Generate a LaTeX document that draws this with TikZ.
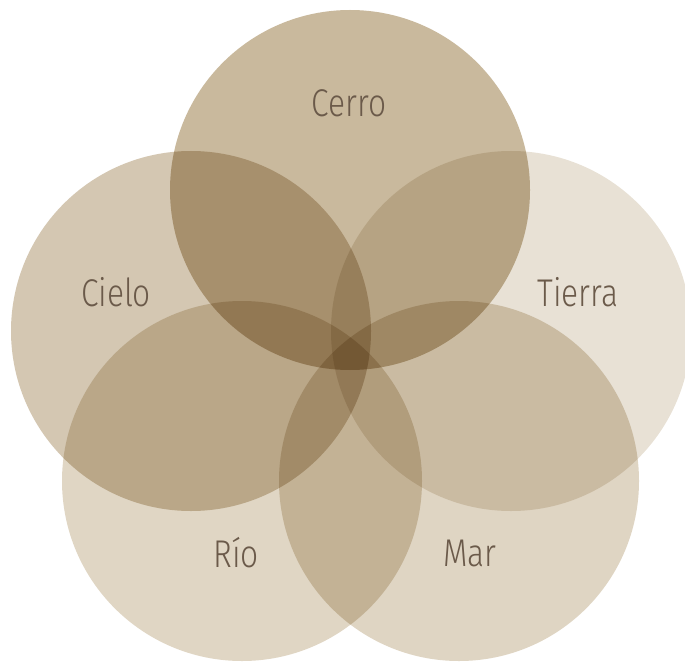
\documentclass[tikz,border=0pt]{standalone}
\usepackage{fontspec}
\setmainfont{Fira Sans Light}[FakeStretch=0.82]
\usetikzlibrary{positioning}

\definecolor{cerrofill}{RGB}{201,185,157}
\definecolor{cielofill}{RGB}{212,199,178}
\definecolor{tierrafill}{RGB}{232,225,213}
\definecolor{riofill}{RGB}{224,214,196}
\definecolor{marfill}{RGB}{223,213,195}
\definecolor{labeltext}{RGB}{107,90,74}

\begin{document}
\begin{tikzpicture}[x=0.02cm,y=-0.02cm,
    label/.style={text=labeltext,font=\fontsize{22}{26}\selectfont,inner sep=0pt}]
    \useasboundingbox (0,0) rectangle (685,662);

    % Circles
    \begin{scope}[blend group=multiply]
        \fill[cerrofill] (350,190) circle (180);
        \fill[cielofill] (191,331) circle (180);
        \fill[tierrafill] (511,331) circle (180);
        \fill[riofill] (242,481) circle (180);
        \fill[marfill] (459,481) circle (180);
    \end{scope}

    % Labels
    \node[label] (cerro) at (349,103) {Cerro};
    \node[label] (cielo) at (116,292) {Cielo};
    \node[label] (tierra) at (578,292) {Tierra};
    \node[label] (rio) at (236,553) {Río};
    \node[label] (mar) at (470,553) {Mar};
\end{tikzpicture}
\end{document}
